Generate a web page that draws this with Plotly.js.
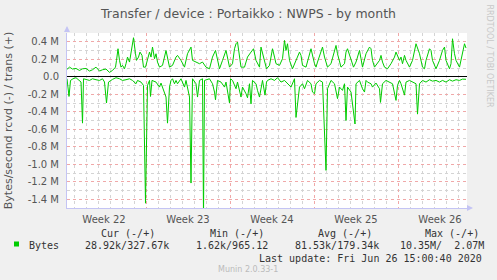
<!DOCTYPE html>
<html>
<head>
<meta charset="utf-8">
<script src="https://cdn.plot.ly/plotly-3.0.1.min.js"></script>
<style>html,body{margin:0;padding:0;background:#f0f0f0;}#chart{width:497px;height:280px;}</style>
</head>
<body>
<div id="chart"></div>
<script>
// Time axis: hours since graph start (2020-05-25 10:00), 2 h per pixel column
const graphStart = Date.UTC(2020, 4, 25, 10, 0);
const graphHours = 800;

// Transmitted bytes/s (in k), plotted upward
const transHours = [0,5,11,18,25,31,38,45,51,58,65,71,78,85,91,97,99,102,105,108,111,115,118,121,125,128,131,133,137,139,143,146,150,153,157,161,165,168,171,175,178,181,185,191,198,205,211,218,221,228,235,241,248,251,258,265,271,278,285,291,297,301,305,311,318,325,331,335,338,341,345,348,355,361,368,373,378,385,388,395,399,405,411,415,418,425,431,435,438,441,445,451,458,465,468,471,478,485,488,495,498,501,508,511,515,521,528,535,538,541,548,555,558,561,568,573,578,585,588,591,598,601,605,608,611,615,618,625,628,631,635,641,648,655,658,665,668,671,675,678,685,691,698,705,711,715,718,725,728,731,738,745,751,755,758,765,768,771,775,778,785,791,795,798];
const transK = [85,110,88,95,72,91,95,65,80,110,65,80,88,50,72,110,187,320,187,110,130,91,149,225,168,263,339,446,263,187,225,282,244,110,110,206,282,225,339,206,263,168,110,130,300,110,130,225,244,187,110,263,339,187,168,149,168,110,91,225,301,187,91,187,301,110,149,320,377,396,225,110,110,225,282,320,187,110,339,187,91,130,320,225,149,130,206,415,301,377,187,91,187,282,244,130,110,263,320,149,110,168,301,339,225,110,149,301,358,263,110,149,282,320,206,110,168,301,206,110,263,301,339,320,187,110,130,187,244,168,110,91,149,225,282,187,225,149,244,187,110,187,377,263,110,91,187,320,301,187,91,187,301,339,187,91,149,434,263,187,110,263,377,328];

// Received bytes/s (in k), plotted downward
const rcvdHours = [0,4,7,12,18,25,28,31,33,45,51,58,65,71,75,79,83,91,98,105,111,118,125,131,138,141,148,153,157,161,165,167,170,178,185,188,195,198,201,205,208,211,215,218,221,228,235,238,245,248,251,258,261,265,271,273,275,285,291,295,297,301,308,315,318,325,327,331,338,341,348,351,358,361,365,368,371,378,381,385,391,396,399,401,408,415,421,428,435,441,448,455,458,465,471,475,481,488,491,495,498,505,511,518,521,528,535,541,545,551,555,558,561,568,576,578,585,591,595,598,601,608,611,618,625,627,631,638,645,651,658,661,665,668,675,678,685,691,698,701,705,711,718,725,731,738,745,751,758,765,771,778,785,791,798];
const rcvdK = [23,225,42,23,11,42,60,530,23,42,23,34,42,23,60,300,61,30,11,23,42,34,23,42,80,42,61,99,1445,99,42,225,42,61,118,72,175,232,530,118,42,23,80,42,80,23,118,42,232,1215,23,80,232,42,23,1600,42,23,80,175,263,42,61,118,61,300,23,42,137,61,232,118,194,240,80,310,42,80,156,232,42,210,61,42,23,42,11,61,42,80,118,23,465,118,80,137,42,80,175,194,80,42,61,1070,137,42,80,250,118,156,80,500,118,175,540,80,42,137,175,42,61,80,118,72,137,293,80,42,61,80,270,99,42,80,210,61,42,61,80,427,80,42,61,34,50,42,61,42,61,34,50,34,42,27,29];

// Y axis ticks
const yTickVals = [-1.4e6,-1.2e6,-1.0e6,-0.8e6,-0.6e6,-0.4e6,-0.2e6,0,0.2e6,0.4e6];
const yTickText = ['-1.4 M','-1.2 M','-1.0 M','-0.8 M','-0.6 M','-0.4 M','-0.2 M','0.0','0.2 M','0.4 M'];

// Legend table
const legendHeaders = ['Cur (-/+)','Min (-/+)','Avg (-/+)','Max (-/+)'];
const legendValues = ['28.92k/327.67k','1.62k/965.12','81.53k/179.34k','10.35M/\u00a0\u00a02.07M'];
const seriesName = 'Bytes';
const lastUpdate = 'Last update: Fri Jun 26 15:00:40 2020';

const toDate = h => new Date(graphStart + h * 3600e3).toISOString().slice(0, 19).replace('T', ' ');

const green = '#00cc00';
const traces = [
  {x: transHours.map(toDate), y: transK.map(v => v * 1000), type: 'scatter', mode: 'lines',
   line: {color: green, width: 1}, hoverinfo: 'skip', showlegend: false},
  {x: rcvdHours.map(toDate), y: rcvdK.map(v => -v * 1000), type: 'scatter', mode: 'lines',
   line: {color: green, width: 1}, hoverinfo: 'skip', showlegend: false}
];

// plot area in pixels
const L = 67, T = 33, W = 400, H = 175;
const px = x => (x - L) / W;
const py = y => (T + H - y) / H;

const mono = {family: 'DejaVu Sans Mono', size: 10, color: '#333'};
const ann = [];
const hdrLeft = [99, 208, 316, 423];
const valLeft = [83, 194, 293, 398];
legendHeaders.forEach((t, i) => ann.push({text: t, x: px(hdrLeft[i]), y: py(233), xref: 'paper', yref: 'paper', xanchor: 'left', yanchor: 'middle', showarrow: false, font: mono}));
legendValues.forEach((t, i) => ann.push({text: t, x: px(valLeft[i]), y: py(245), xref: 'paper', yref: 'paper', xanchor: 'left', yanchor: 'middle', showarrow: false, font: mono}));
ann.push({text: seriesName, x: px(27), y: py(245), xref: 'paper', yref: 'paper', xanchor: 'left', yanchor: 'middle', showarrow: false, font: mono});
ann.push({text: lastUpdate, x: px(484), y: py(258), xref: 'paper', yref: 'paper', xanchor: 'right', yanchor: 'middle', showarrow: false, font: mono});
ann.push({text: 'Munin 2.0.33-1', x: px(248), y: py(269), xref: 'paper', yref: 'paper', xanchor: 'center', yanchor: 'middle', showarrow: false, font: {family: 'DejaVu Sans', size: 8, color: '#bbbbbb'}});
ann.push({text: 'RRDTOOL / TOBI OETIKER', x: px(489.5), y: py(56), xref: 'paper', yref: 'paper', xanchor: 'center', yanchor: 'middle', textangle: 90, showarrow: false, font: {family: 'DejaVu Sans', size: 8, color: '#c8c8c8'}});
// axis arrowheads
const axisBlue = '#c4c4f4';
ann.push({text: '', x: px(67), y: py(26), xref: 'paper', yref: 'paper', showarrow: true, ax: 0, ay: 7, arrowhead: 2, arrowsize: 1.2, arrowwidth: 1, arrowcolor: axisBlue});
ann.push({text: '', x: px(473), y: py(208), xref: 'paper', yref: 'paper', showarrow: true, ax: -7, ay: 0, arrowhead: 2, arrowsize: 1.2, arrowwidth: 1, arrowcolor: axisBlue});

const layout = {
  width: 497, height: 280, autosize: false,
  margin: {l: L, r: 497 - L - W, t: T, b: 280 - T - H, pad: 0},
  paper_bgcolor: '#f0f0f0', plot_bgcolor: '#ffffff',
  font: {family: 'DejaVu Sans', size: 10, color: '#555'},
  title: {text: 'Transfer / device : Portaikko : NWPS - by month', x: 0.5, xanchor: 'center', y: 1 - 13.5 / 280, yanchor: 'middle', yref: 'container',
          font: {family: 'DejaVu Sans', size: 12.5, color: '#555'}},
  xaxis: {type: 'date', range: [toDate(0), toDate(graphHours)], tick0: '2020-06-01', dtick: 7 * 864e5,
          ticklabelmode: 'period', tickformat: 'Week %V', ticks: '', ticklabelstandoff: 2,
          showgrid: true, gridcolor: '#f0a8a8', griddash: 'dot', gridwidth: 1,
          minor: {tick0: '2020-06-01', dtick: 864e5, showgrid: true, gridcolor: '#d4d4d4', griddash: 'dot', gridwidth: 1, ticks: ''},
          showline: true, linecolor: axisBlue, linewidth: 1, zeroline: false, fixedrange: true,
          tickfont: {family: 'DejaVu Sans', size: 10, color: '#555'}},
  yaxis: {range: [-1.5e6, 0.5e6], tickmode: 'array', tickvals: yTickVals, ticktext: yTickText, ticks: '', ticklabelstandoff: 5,
          showgrid: true, gridcolor: '#f0a8a8', griddash: 'dot', gridwidth: 1,
          minor: {dtick: 1e5, tick0: 0, showgrid: true, gridcolor: '#d4d4d4', griddash: 'dot', gridwidth: 1, ticks: ''},
          zeroline: true, zerolinecolor: '#000000', zerolinewidth: 1,
          showline: true, linecolor: axisBlue, linewidth: 1, fixedrange: true,
          tickfont: {family: 'DejaVu Sans', size: 10, color: '#555'},
          title: {text: 'Bytes/second rcvd (-) / trans (+)', standoff: 12, font: {family: 'DejaVu Sans', size: 11, color: '#555'}}},
  shapes: [{type: 'rect', xref: 'paper', yref: 'paper', x0: px(14), x1: px(19), y0: py(246.5), y1: py(241.5), fillcolor: green, line: {width: 0}}],
  annotations: ann
};

Plotly.newPlot('chart', traces, layout, {displayModeBar: false, staticPlot: true});
</script>
</body>
</html>
